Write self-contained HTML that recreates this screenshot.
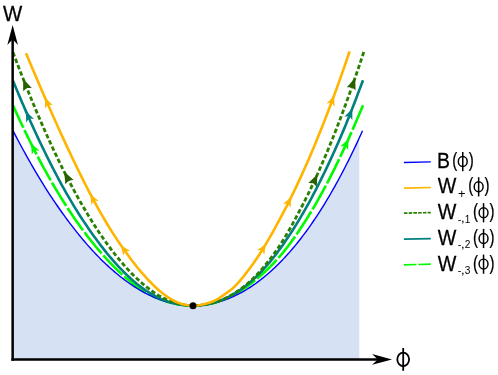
<!DOCTYPE html>
<html><head><meta charset="utf-8"><title>W vs phi</title>
<style>
html,body{margin:0;padding:0;background:#fff;}
body{width:498px;height:375px;overflow:hidden;font-family:"Liberation Sans",sans-serif;}
svg{display:block;will-change:transform;}
</style></head><body>
<svg width="498" height="375" viewBox="0 0 498 375">
<rect width="498" height="375" fill="#fff"/>
<path d="M13.00,130.69 L14.74,134.03 L16.48,137.35 L18.22,140.63 L19.96,143.88 L21.70,147.10 L23.44,150.29 L25.18,153.45 L26.92,156.57 L28.66,159.66 L30.40,162.72 L32.14,165.75 L33.88,168.75 L35.62,171.72 L37.36,174.67 L39.10,177.58 L40.84,180.46 L42.58,183.30 L44.32,186.10 L46.06,188.87 L47.80,191.59 L49.54,194.27 L51.28,196.91 L53.02,199.52 L54.76,202.10 L56.51,204.64 L58.25,207.16 L59.99,209.65 L61.73,212.11 L63.47,214.53 L65.21,216.93 L66.95,219.30 L68.69,221.64 L70.43,223.94 L72.17,226.22 L73.91,228.46 L75.65,230.68 L77.39,232.86 L79.13,235.01 L80.87,237.14 L82.61,239.23 L84.35,241.29 L86.09,243.31 L87.83,245.31 L89.57,247.27 L91.31,249.19 L93.05,251.09 L94.79,252.95 L96.53,254.78 L98.27,256.58 L100.01,258.34 L101.75,260.07 L103.49,261.77 L105.23,263.44 L106.97,265.08 L108.71,266.68 L110.45,268.26 L112.19,269.80 L113.93,271.31 L115.67,272.78 L117.41,274.23 L119.15,275.65 L120.89,277.03 L122.63,278.38 L124.37,279.71 L126.11,281.00 L127.85,282.26 L129.59,283.48 L131.33,284.68 L133.07,285.84 L134.81,286.96 L136.55,288.06 L138.29,289.12 L140.03,290.15 L141.77,291.15 L143.52,292.11 L145.26,293.04 L147.00,293.94 L148.74,294.81 L150.48,295.64 L152.22,296.44 L153.96,297.20 L155.70,297.94 L157.44,298.63 L159.18,299.30 L160.92,299.93 L162.66,300.53 L164.40,301.10 L166.14,301.63 L167.88,302.13 L169.62,302.60 L171.36,303.03 L173.10,303.43 L174.84,303.80 L176.58,304.13 L178.32,304.43 L180.06,304.69 L181.80,304.92 L183.54,305.12 L185.28,305.28 L187.02,305.41 L188.76,305.51 L190.50,305.57 L192.24,305.60 L193.98,305.59 L195.72,305.55 L197.46,305.48 L199.20,305.38 L200.94,305.24 L202.68,305.06 L204.42,304.86 L206.16,304.62 L207.90,304.35 L209.64,304.04 L211.38,303.70 L213.12,303.33 L214.86,302.92 L216.60,302.48 L218.34,302.00 L220.08,301.50 L221.82,300.95 L223.56,300.38 L225.30,299.77 L227.04,299.12 L228.78,298.44 L230.53,297.73 L232.27,296.98 L234.01,296.19 L235.75,295.38 L237.49,294.52 L239.23,293.64 L240.97,292.71 L242.71,291.75 L244.45,290.76 L246.19,289.73 L247.93,288.67 L249.67,287.57 L251.41,286.43 L253.15,285.26 L254.89,284.05 L256.63,282.80 L258.37,281.52 L260.11,280.20 L261.85,278.85 L263.59,277.46 L265.33,276.03 L267.07,274.56 L268.81,273.06 L270.55,271.52 L272.29,269.94 L274.03,268.32 L275.77,266.67 L277.51,264.98 L279.25,263.24 L280.99,261.47 L282.73,259.66 L284.47,257.82 L286.21,255.93 L287.95,254.00 L289.69,252.03 L291.43,250.03 L293.17,247.98 L294.91,245.89 L296.65,243.76 L298.39,241.59 L300.13,239.38 L301.87,237.13 L303.61,234.84 L305.35,232.50 L307.09,230.12 L308.83,227.70 L310.57,225.24 L312.31,222.74 L314.05,220.19 L315.79,217.60 L317.54,214.96 L319.28,212.28 L321.02,209.56 L322.76,206.79 L324.50,203.98 L326.24,201.12 L327.98,198.22 L329.72,195.27 L331.46,192.28 L333.20,189.24 L334.94,186.15 L336.68,183.01 L338.42,179.83 L340.16,176.60 L341.90,173.33 L343.64,170.00 L345.38,166.63 L347.12,163.21 L348.86,159.74 L350.60,156.22 L352.34,152.65 L354.08,149.03 L355.82,145.36 L357.56,141.64 L359.30,137.87 L359.3,359.4 L13,359.4 Z" fill="#d7e1f4"/>
<path d="M13.00,105.36 L14.21,108.04 L15.41,110.71 L16.62,113.35 L17.83,115.98 L19.03,118.59 L20.24,121.18 L21.45,123.75 L22.65,126.31 L23.86,128.84 L25.07,131.36 L26.27,133.85 L27.48,136.33 L28.69,138.79 L29.89,141.22 L31.10,143.64 L32.31,146.03 L33.51,148.41 L34.72,150.76 L35.93,153.10 L37.13,155.43 L38.34,157.73 L39.55,160.02 L40.75,162.29 L41.96,164.55 L43.17,166.78 L44.37,169.00 L45.58,171.20 L46.79,173.38 L47.99,175.54 L49.20,177.69 L50.41,179.81 L51.61,181.92 L52.82,184.01 L54.03,186.07 L55.23,188.12 L56.44,190.15 L57.65,192.16 L58.86,194.15 L60.06,196.11 L61.27,198.07 L62.48,200.00 L63.68,201.92 L64.89,203.82 L66.10,205.70 L67.30,207.57 L68.51,209.42 L69.72,211.25 L70.92,213.07 L72.13,214.87 L73.34,216.65 L74.54,218.41 L75.75,220.16 L76.96,221.89 L78.16,223.60 L79.37,225.30 L80.58,226.98 L81.78,228.64 L82.99,230.28 L84.20,231.91 L85.40,233.52 L86.61,235.11 L87.82,236.68 L89.02,238.24 L90.23,239.78 L91.44,241.30 L92.64,242.80 L93.85,244.29 L95.06,245.76 L96.26,247.21 L97.47,248.65 L98.68,250.07 L99.88,251.47 L101.09,252.85 L102.30,254.22 L103.50,255.58 L104.71,256.92 L105.92,258.25 L107.12,259.56 L108.33,260.85 L109.54,262.13 L110.74,263.40 L111.95,264.65 L113.16,265.88 L114.36,267.10 L115.57,268.30 L116.78,269.48 L117.98,270.64 L119.19,271.79 L120.40,272.92 L121.60,274.03 L122.81,275.12 L124.02,276.20 L125.22,277.25 L126.43,278.29 L127.64,279.30 L128.84,280.30 L130.05,281.28 L131.26,282.25 L132.46,283.20 L133.67,284.13 L134.88,285.04 L136.08,285.93 L137.29,286.80 L138.50,287.64 L139.70,288.47 L140.91,289.26 L142.12,290.04 L143.32,290.79 L144.53,291.52 L145.74,292.23 L146.94,292.92 L148.15,293.59 L149.36,294.24 L150.57,294.87 L151.77,295.48 L152.98,296.07 L154.19,296.64 L155.39,297.20 L156.60,297.73 L157.81,298.25 L159.01,298.75 L160.22,299.23 L161.43,299.70 L162.63,300.15 L163.84,300.58 L165.05,301.00 L166.25,301.40 L167.46,301.78 L168.67,302.14 L169.87,302.49 L171.08,302.82 L172.29,303.13 L173.49,303.42 L174.70,303.69 L175.91,303.95 L177.11,304.18 L178.32,304.40 L179.53,304.60 L180.73,304.78 L181.94,304.95 L183.15,305.09 L184.35,305.22 L185.56,305.33 L186.77,305.42 L187.97,305.49 L189.18,305.55 L190.39,305.58 L191.59,305.60 L192.80,305.60" fill="none" stroke="#00fa00" stroke-width="2.6" stroke-dasharray="27.2 2.5" stroke-dashoffset="2.5"/>
<path d="M363.00,105.26 L361.86,108.00 L360.72,110.73 L359.57,113.45 L358.43,116.15 L357.29,118.83 L356.15,121.49 L355.00,124.14 L353.86,126.77 L352.72,129.38 L351.58,131.98 L350.43,134.55 L349.29,137.11 L348.15,139.66 L347.01,142.18 L345.87,144.68 L344.72,147.17 L343.58,149.64 L342.44,152.10 L341.30,154.54 L340.15,156.96 L339.01,159.37 L337.87,161.75 L336.73,164.12 L335.59,166.47 L334.44,168.80 L333.30,171.11 L332.16,173.39 L331.02,175.65 L329.87,177.89 L328.73,180.11 L327.59,182.29 L326.45,184.46 L325.30,186.60 L324.16,188.73 L323.02,190.84 L321.88,192.93 L320.74,195.00 L319.59,197.05 L318.45,199.08 L317.31,201.10 L316.17,203.10 L315.02,205.07 L313.88,207.03 L312.74,208.97 L311.60,210.89 L310.46,212.79 L309.31,214.68 L308.17,216.54 L307.03,218.39 L305.89,220.21 L304.74,222.02 L303.60,223.80 L302.46,225.57 L301.32,227.32 L300.17,229.05 L299.03,230.76 L297.89,232.45 L296.75,234.12 L295.61,235.77 L294.46,237.40 L293.32,239.01 L292.18,240.60 L291.04,242.17 L289.89,243.72 L288.75,245.25 L287.61,246.75 L286.47,248.23 L285.32,249.68 L284.18,251.11 L283.04,252.51 L281.90,253.89 L280.76,255.25 L279.61,256.58 L278.47,257.89 L277.33,259.18 L276.19,260.45 L275.04,261.69 L273.90,262.91 L272.76,264.12 L271.62,265.30 L270.48,266.46 L269.33,267.60 L268.19,268.73 L267.05,269.83 L265.91,270.92 L264.76,271.98 L263.62,273.03 L262.48,274.07 L261.34,275.08 L260.19,276.08 L259.05,277.07 L257.91,278.04 L256.77,278.99 L255.63,279.93 L254.48,280.85 L253.34,281.76 L252.20,282.66 L251.06,283.55 L249.91,284.42 L248.77,285.28 L247.63,286.11 L246.49,286.94 L245.34,287.74 L244.20,288.53 L243.06,289.30 L241.92,290.05 L240.78,290.78 L239.63,291.50 L238.49,292.20 L237.35,292.88 L236.21,293.54 L235.06,294.18 L233.92,294.81 L232.78,295.41 L231.64,296.00 L230.50,296.57 L229.35,297.13 L228.21,297.66 L227.07,298.17 L225.93,298.67 L224.78,299.15 L223.64,299.60 L222.50,300.05 L221.36,300.47 L220.21,300.87 L219.07,301.26 L217.93,301.63 L216.79,301.99 L215.65,302.32 L214.50,302.64 L213.36,302.94 L212.22,303.23 L211.08,303.50 L209.93,303.75 L208.79,303.98 L207.65,304.20 L206.51,304.40 L205.37,304.59 L204.22,304.76 L203.08,304.91 L201.94,305.05 L200.80,305.17 L199.65,305.28 L198.51,305.37 L197.37,305.45 L196.23,305.51 L195.08,305.55 L193.94,305.58 L192.80,305.60" fill="none" stroke="#00fa00" stroke-width="2.6" stroke-dasharray="27.2 2.5" stroke-dashoffset="0.5"/>
<path d="M13.00,130.69 L14.76,134.06 L16.51,137.41 L18.27,140.72 L20.03,144.00 L21.78,147.25 L23.54,150.47 L25.29,153.65 L27.05,156.80 L28.81,159.92 L30.56,163.00 L32.32,166.05 L34.08,169.08 L35.83,172.08 L37.59,175.05 L39.34,177.98 L41.10,180.88 L42.86,183.74 L44.61,186.57 L46.37,189.35 L48.13,192.09 L49.88,194.79 L51.64,197.44 L53.39,200.07 L55.15,202.66 L56.91,205.23 L58.66,207.76 L60.42,210.27 L62.18,212.74 L63.93,215.18 L65.69,217.59 L67.44,219.97 L69.20,222.32 L70.96,224.64 L72.71,226.93 L74.47,229.18 L76.23,231.41 L77.98,233.60 L79.74,235.76 L81.49,237.89 L83.25,239.99 L85.01,242.06 L86.76,244.09 L88.52,246.09 L90.28,248.06 L92.03,249.99 L93.79,251.88 L95.55,253.75 L97.30,255.58 L99.06,257.38 L100.81,259.15 L102.57,260.88 L104.33,262.58 L106.08,264.25 L107.84,265.88 L109.60,267.49 L111.35,269.06 L113.11,270.59 L114.86,272.10 L116.62,273.58 L118.38,275.02 L120.13,276.43 L121.89,277.81 L123.65,279.16 L125.40,280.47 L127.16,281.76 L128.91,283.01 L130.67,284.23 L132.43,285.41 L134.18,286.56 L135.94,287.68 L137.70,288.76 L139.45,289.81 L141.21,290.83 L142.96,291.81 L144.72,292.76 L146.48,293.68 L148.23,294.56 L149.99,295.41 L151.75,296.22 L153.50,297.01 L155.26,297.75 L157.02,298.47 L158.77,299.15 L160.53,299.80 L162.28,300.41 L164.04,300.99 L165.80,301.53 L167.55,302.04 L169.31,302.52 L171.07,302.96 L172.82,303.37 L174.58,303.74 L176.33,304.08 L178.09,304.39 L179.85,304.66 L181.60,304.90 L183.36,305.10 L185.12,305.27 L186.87,305.40 L188.63,305.50 L190.38,305.57 L192.14,305.60 L193.90,305.59 L195.65,305.56 L197.41,305.48 L199.17,305.38 L200.92,305.24 L202.68,305.06 L204.43,304.86 L206.19,304.61 L207.95,304.34 L209.70,304.03 L211.46,303.68 L213.22,303.31 L214.97,302.89 L216.73,302.45 L218.48,301.96 L220.24,301.45 L222.00,300.90 L223.75,300.31 L225.51,299.69 L227.27,299.04 L229.02,298.34 L230.78,297.62 L232.54,296.86 L234.29,296.06 L236.05,295.23 L237.80,294.36 L239.56,293.46 L241.32,292.52 L243.07,291.55 L244.83,290.54 L246.59,289.49 L248.34,288.41 L250.10,287.29 L251.85,286.13 L253.61,284.94 L255.37,283.71 L257.12,282.44 L258.88,281.14 L260.64,279.80 L262.39,278.42 L264.15,277.00 L265.90,275.55 L267.66,274.06 L269.42,272.53 L271.17,270.96 L272.93,269.35 L274.69,267.70 L276.44,266.02 L278.20,264.30 L279.95,262.53 L281.71,260.73 L283.47,258.89 L285.22,257.00 L286.98,255.08 L288.74,253.12 L290.49,251.11 L292.25,249.07 L294.01,246.98 L295.76,244.86 L297.52,242.69 L299.27,240.48 L301.03,238.23 L302.79,235.93 L304.54,233.60 L306.30,231.22 L308.06,228.79 L309.81,226.33 L311.57,223.82 L313.32,221.26 L315.08,218.67 L316.84,216.03 L318.59,213.34 L320.35,210.61 L322.11,207.83 L323.86,205.01 L325.62,202.14 L327.37,199.23 L329.13,196.27 L330.89,193.26 L332.64,190.21 L334.40,187.11 L336.16,183.96 L337.91,180.76 L339.67,177.52 L341.42,174.22 L343.18,170.88 L344.94,167.49 L346.69,164.05 L348.45,160.56 L350.21,157.02 L351.96,153.43 L353.72,149.78 L355.47,146.09 L357.23,142.34 L358.99,138.55 L360.74,134.70 L362.50,130.79" fill="none" stroke="#0000ff" stroke-width="1.4"/>
<path d="M13.00,80.76 L14.76,85.03 L16.52,89.27 L18.28,93.46 L20.04,97.62 L21.79,101.74 L23.55,105.82 L25.31,109.87 L27.07,113.87 L28.83,117.84 L30.59,121.77 L32.35,125.66 L34.11,129.51 L35.86,133.32 L37.62,137.10 L39.38,140.83 L41.14,144.52 L42.90,148.18 L44.66,151.80 L46.42,155.37 L48.18,158.91 L49.93,162.40 L51.69,165.86 L53.45,169.28 L55.21,172.65 L56.97,175.99 L58.73,179.28 L60.49,182.54 L62.25,185.75 L64.01,188.92 L65.76,192.06 L67.52,195.15 L69.28,198.20 L71.04,201.20 L72.80,204.16 L74.56,207.06 L76.32,209.91 L78.08,212.71 L79.83,215.47 L81.59,218.18 L83.35,220.86 L85.11,223.49 L86.87,226.08 L88.63,228.64 L90.39,231.17 L92.15,233.66 L93.90,236.13 L95.66,238.56 L97.42,240.95 L99.18,243.30 L100.94,245.62 L102.70,247.89 L104.46,250.13 L106.22,252.33 L107.97,254.48 L109.73,256.60 L111.49,258.67 L113.25,260.70 L115.01,262.69 L116.77,264.64 L118.53,266.54 L120.29,268.39 L122.05,270.21 L123.80,271.98 L125.56,273.72 L127.32,275.41 L129.08,277.06 L130.84,278.67 L132.60,280.23 L134.36,281.76 L136.12,283.26 L137.87,284.71 L139.63,286.08 L141.39,287.39 L143.15,288.64 L144.91,289.85 L146.67,291.01 L148.43,292.12 L150.19,293.19 L151.94,294.22 L153.70,295.19 L155.46,296.13 L157.22,297.02 L158.98,297.86 L160.74,298.67 L162.50,299.42 L164.26,300.14 L166.02,300.81 L167.77,301.44 L169.53,302.02 L171.29,302.55 L173.05,303.04 L174.81,303.49 L176.57,303.89 L178.33,304.24 L180.09,304.56 L181.84,304.83 L183.60,305.06 L185.36,305.25 L187.12,305.40 L188.88,305.50 L190.64,305.57 L192.40,305.60 L194.16,305.59 L195.91,305.54 L197.67,305.45 L199.43,305.32 L201.19,305.15 L202.95,304.94 L204.71,304.68 L206.47,304.39 L208.23,304.05 L209.98,303.67 L211.74,303.24 L213.50,302.77 L215.26,302.25 L217.02,301.69 L218.78,301.08 L220.54,300.43 L222.30,299.73 L224.06,298.98 L225.81,298.18 L227.57,297.34 L229.33,296.45 L231.09,295.51 L232.85,294.52 L234.61,293.48 L236.37,292.40 L238.13,291.27 L239.88,290.09 L241.64,288.87 L243.40,287.59 L245.16,286.26 L246.92,284.89 L248.68,283.46 L250.44,281.98 L252.20,280.45 L253.95,278.86 L255.71,277.23 L257.47,275.54 L259.23,273.79 L260.99,271.99 L262.75,270.13 L264.51,268.21 L266.27,266.23 L268.03,264.19 L269.78,262.09 L271.54,259.94 L273.30,257.73 L275.06,255.47 L276.82,253.15 L278.58,250.79 L280.34,248.37 L282.10,245.92 L283.85,243.41 L285.61,240.86 L287.37,238.27 L289.13,235.64 L290.89,232.97 L292.65,230.26 L294.41,227.49 L296.17,224.67 L297.92,221.79 L299.68,218.87 L301.44,215.90 L303.20,212.88 L304.96,209.81 L306.72,206.69 L308.48,203.51 L310.24,200.29 L311.99,197.02 L313.75,193.70 L315.51,190.33 L317.27,186.91 L319.03,183.45 L320.79,179.93 L322.55,176.37 L324.31,172.76 L326.07,169.10 L327.82,165.39 L329.58,161.63 L331.34,157.83 L333.10,153.98 L334.86,150.09 L336.62,146.15 L338.38,142.16 L340.14,138.13 L341.89,134.03 L343.65,129.87 L345.41,125.63 L347.17,121.33 L348.93,116.97 L350.69,112.55 L352.45,108.07 L354.21,103.54 L355.96,98.96 L357.72,94.33 L359.48,89.66 L361.24,84.95 L363.00,80.20" fill="none" stroke="#008080" stroke-width="2.6"/>
<path d="M13.00,52.41 L14.21,55.61 L15.41,58.79 L16.62,61.96 L17.83,65.11 L19.03,68.23 L20.24,71.35 L21.45,74.44 L22.65,77.51 L23.86,80.57 L25.07,83.60 L26.27,86.62 L27.48,89.62 L28.69,92.60 L29.89,95.56 L31.10,98.51 L32.31,101.43 L33.51,104.34 L34.72,107.23 L35.93,110.10 L37.13,112.95 L38.34,115.78 L39.55,118.59 L40.75,121.38 L41.96,124.16 L43.17,126.91 L44.37,129.65 L45.58,132.37 L46.79,135.07 L47.99,137.74 L49.20,140.40 L50.41,143.04 L51.61,145.66 L52.82,148.26 L54.03,150.83 L55.23,153.39 L56.44,155.92 L57.65,158.43 L58.86,160.92 L60.06,163.39 L61.27,165.84 L62.48,168.26 L63.68,170.67 L64.89,173.05 L66.10,175.42 L67.30,177.77 L68.51,180.09 L69.72,182.40 L70.92,184.69 L72.13,186.96 L73.34,189.20 L74.54,191.43 L75.75,193.64 L76.96,195.83 L78.16,198.00 L79.37,200.15 L80.58,202.28 L81.78,204.39 L82.99,206.47 L84.20,208.54 L85.40,210.58 L86.61,212.61 L87.82,214.61 L89.02,216.60 L90.23,218.56 L91.44,220.51 L92.64,222.43 L93.85,224.33 L95.06,226.21 L96.26,228.07 L97.47,229.91 L98.68,231.73 L99.88,233.54 L101.09,235.32 L102.30,237.07 L103.50,238.81 L104.71,240.53 L105.92,242.22 L107.12,243.90 L108.33,245.55 L109.54,247.18 L110.74,248.79 L111.95,250.38 L113.16,251.94 L114.36,253.49 L115.57,255.01 L116.78,256.52 L117.98,258.00 L119.19,259.47 L120.40,260.91 L121.60,262.33 L122.81,263.73 L124.02,265.12 L125.22,266.48 L126.43,267.82 L127.64,269.15 L128.84,270.45 L130.05,271.73 L131.26,272.99 L132.46,274.22 L133.67,275.44 L134.88,276.63 L136.08,277.79 L137.29,278.94 L138.50,280.06 L139.70,281.15 L140.91,282.23 L142.12,283.28 L143.32,284.32 L144.53,285.33 L145.74,286.31 L146.94,287.28 L148.15,288.22 L149.36,289.13 L150.57,290.03 L151.77,290.90 L152.98,291.74 L154.19,292.57 L155.39,293.36 L156.60,294.14 L157.81,294.88 L159.01,295.61 L160.22,296.30 L161.43,296.98 L162.63,297.62 L163.84,298.24 L165.05,298.84 L166.25,299.41 L167.46,299.95 L168.67,300.47 L169.87,300.96 L171.08,301.43 L172.29,301.87 L173.49,302.29 L174.70,302.69 L175.91,303.06 L177.11,303.40 L178.32,303.72 L179.53,304.01 L180.73,304.28 L181.94,304.53 L183.15,304.74 L184.35,304.94 L185.56,305.11 L186.77,305.25 L187.97,305.37 L189.18,305.47 L190.39,305.54 L191.59,305.58 L192.80,305.60" fill="none" stroke="#2a8000" stroke-width="2.8" stroke-dasharray="4.4 2.4" stroke-dashoffset="0"/>
<path d="M363.80,51.99 L362.65,55.47 L361.50,58.92 L360.36,62.34 L359.21,65.75 L358.06,69.14 L356.91,72.50 L355.77,75.84 L354.62,79.16 L353.47,82.46 L352.32,85.74 L351.18,88.99 L350.03,92.22 L348.88,95.43 L347.73,98.62 L346.59,101.78 L345.44,104.92 L344.29,108.04 L343.14,111.13 L341.99,114.20 L340.85,117.25 L339.70,120.27 L338.55,123.28 L337.40,126.25 L336.26,129.21 L335.11,132.14 L333.96,135.04 L332.81,137.93 L331.67,140.79 L330.52,143.62 L329.37,146.43 L328.22,149.22 L327.08,151.98 L325.93,154.72 L324.78,157.43 L323.63,160.12 L322.48,162.78 L321.34,165.42 L320.19,168.04 L319.04,170.63 L317.89,173.20 L316.75,175.74 L315.60,178.25 L314.45,180.75 L313.30,183.21 L312.16,185.65 L311.01,188.07 L309.86,190.46 L308.71,192.83 L307.57,195.17 L306.42,197.49 L305.27,199.78 L304.12,202.04 L302.97,204.28 L301.83,206.50 L300.68,208.69 L299.53,210.86 L298.38,213.03 L297.24,215.21 L296.09,217.38 L294.94,219.55 L293.79,221.71 L292.65,223.84 L291.50,225.95 L290.35,228.02 L289.20,230.06 L288.06,232.05 L286.91,234.00 L285.76,235.90 L284.61,237.77 L283.46,239.62 L282.32,241.45 L281.17,243.24 L280.02,245.00 L278.87,246.74 L277.73,248.44 L276.58,250.11 L275.43,251.75 L274.28,253.36 L273.14,254.94 L271.99,256.50 L270.84,258.03 L269.69,259.53 L268.54,261.02 L267.40,262.47 L266.25,263.90 L265.10,265.31 L263.95,266.69 L262.81,268.05 L261.66,269.38 L260.51,270.68 L259.36,271.97 L258.22,273.22 L257.07,274.45 L255.92,275.65 L254.77,276.82 L253.63,277.97 L252.48,279.08 L251.33,280.17 L250.18,281.24 L249.03,282.27 L247.89,283.28 L246.74,284.27 L245.59,285.23 L244.44,286.16 L243.30,287.07 L242.15,287.95 L241.00,288.81 L239.85,289.65 L238.71,290.46 L237.56,291.25 L236.41,292.02 L235.26,292.76 L234.12,293.48 L232.97,294.18 L231.82,294.85 L230.67,295.51 L229.52,296.14 L228.38,296.76 L227.23,297.35 L226.08,297.92 L224.93,298.47 L223.79,299.00 L222.64,299.51 L221.49,300.00 L220.34,300.47 L219.20,300.91 L218.05,301.33 L216.90,301.73 L215.75,302.11 L214.61,302.47 L213.46,302.81 L212.31,303.13 L211.16,303.43 L210.01,303.70 L208.87,303.96 L207.72,304.20 L206.57,304.42 L205.42,304.62 L204.28,304.80 L203.13,304.96 L201.98,305.10 L200.83,305.23 L199.69,305.33 L198.54,305.42 L197.39,305.49 L196.24,305.54 L195.10,305.58 L193.95,305.60 L192.80,305.60" fill="none" stroke="#2a8000" stroke-width="2.8" stroke-dasharray="4.4 2.4" stroke-dashoffset="0"/>
<path d="M26.00,53.23 L27.63,57.10 L29.25,60.96 L30.88,64.80 L32.50,68.64 L34.13,72.47 L35.76,76.28 L37.38,80.08 L39.01,83.87 L40.64,87.65 L42.26,91.41 L43.89,95.16 L45.51,98.89 L47.14,102.61 L48.77,106.32 L50.39,110.00 L52.02,113.67 L53.64,117.33 L55.27,120.96 L56.90,124.58 L58.52,128.18 L60.15,131.76 L61.77,135.32 L63.40,138.86 L65.03,142.38 L66.65,145.88 L68.28,149.36 L69.91,152.81 L71.53,156.24 L73.16,159.65 L74.78,163.04 L76.41,166.39 L78.04,169.73 L79.66,173.04 L81.29,176.32 L82.91,179.58 L84.54,182.81 L86.17,186.01 L87.79,189.18 L89.42,192.32 L91.05,195.43 L92.67,198.50 L94.30,201.51 L95.92,204.48 L97.55,207.41 L99.18,210.30 L100.80,213.16 L102.43,215.97 L104.05,218.76 L105.68,221.51 L107.31,224.21 L108.93,226.87 L110.56,229.49 L112.18,232.07 L113.81,234.62 L115.44,237.13 L117.06,239.59 L118.69,242.01 L120.32,244.38 L121.94,246.72 L123.57,249.03 L125.19,251.30 L126.82,253.55 L128.45,255.79 L130.07,258.00 L131.70,260.19 L133.32,262.33 L134.95,264.42 L136.58,266.47 L138.20,268.47 L139.83,270.42 L141.46,272.32 L143.08,274.18 L144.71,275.99 L146.33,277.77 L147.96,279.53 L149.59,281.26 L151.21,282.96 L152.84,284.61 L154.46,286.21 L156.09,287.76 L157.72,289.25 L159.34,290.67 L160.97,292.02 L162.59,293.32 L164.22,294.56 L165.85,295.75 L167.47,296.88 L169.10,297.94 L170.73,298.94 L172.35,299.88 L173.98,300.74 L175.60,301.53 L177.23,302.25 L178.86,302.90 L180.48,303.47 L182.11,303.98 L183.73,304.41 L185.36,304.78 L186.99,305.08 L188.61,305.31 L190.24,305.48 L191.87,305.57 L193.49,305.60 L195.12,305.56 L196.74,305.45 L198.37,305.27 L200.00,305.02 L201.62,304.71 L203.25,304.35 L204.87,303.95 L206.50,303.52 L208.13,303.06 L209.75,302.54 L211.38,301.96 L213.01,301.30 L214.63,300.56 L216.26,299.72 L217.88,298.80 L219.51,297.81 L221.14,296.77 L222.76,295.67 L224.39,294.52 L226.01,293.34 L227.64,292.17 L229.27,290.97 L230.89,289.72 L232.52,288.39 L234.14,286.96 L235.77,285.39 L237.40,283.68 L239.02,281.86 L240.65,279.96 L242.28,277.98 L243.90,275.95 L245.53,273.88 L247.15,271.78 L248.78,269.64 L250.41,267.45 L252.03,265.21 L253.66,262.92 L255.28,260.57 L256.91,258.18 L258.54,255.73 L260.16,253.22 L261.79,250.65 L263.42,248.02 L265.04,245.35 L266.67,242.63 L268.29,239.87 L269.92,237.08 L271.55,234.26 L273.17,231.38 L274.80,228.45 L276.42,225.48 L278.05,222.48 L279.68,219.44 L281.30,216.38 L282.93,213.28 L284.55,210.17 L286.18,207.04 L287.81,203.86 L289.43,200.64 L291.06,197.38 L292.69,194.07 L294.31,190.72 L295.94,187.32 L297.56,183.89 L299.19,180.41 L300.82,176.89 L302.44,173.32 L304.07,169.72 L305.69,166.07 L307.32,162.38 L308.95,158.65 L310.57,154.87 L312.20,151.05 L313.83,147.19 L315.45,143.29 L317.08,139.34 L318.70,135.36 L320.33,131.33 L321.96,127.26 L323.58,123.14 L325.21,118.98 L326.83,114.78 L328.46,110.54 L330.09,106.26 L331.71,101.93 L333.34,97.56 L334.96,93.14 L336.59,88.68 L338.22,84.18 L339.84,79.63 L341.47,75.04 L343.10,70.41 L344.72,65.73 L346.35,61.01 L347.97,56.24 L349.60,51.42" fill="none" stroke="#ffb400" stroke-width="2.6"/>
<path d="M23.11,78.71 L31.76,87.96 L26.86,88.09 L23.21,91.37 Z" fill="#266000"/>
<path d="M64.10,171.55 L73.59,179.93 L68.72,180.53 L65.41,184.14 Z" fill="#266000"/>
<path d="M317.47,174.20 L316.71,186.84 L313.24,183.37 L308.35,182.99 Z" fill="#266000"/>
<path d="M355.15,77.67 L355.59,90.32 L351.81,87.20 L346.91,87.29 Z" fill="#266000"/>
<path d="M44.99,97.71 L52.85,105.19 L47.92,104.40 L45.16,108.56 Z" fill="#ffb400"/>
<path d="M90.34,194.14 L98.76,200.98 L93.79,200.58 L91.36,204.94 Z" fill="#ffb400"/>
<path d="M120.90,245.28 L130.12,250.99 L125.13,251.23 L123.28,255.86 Z" fill="#ffb400"/>
<path d="M265.92,243.95 L264.26,254.67 L262.10,250.17 L257.10,250.27 Z" fill="#ffb400"/>
<path d="M291.25,197.04 L290.50,207.86 L287.97,203.56 L283.00,204.08 Z" fill="#ffb400"/>
<path d="M334.05,95.67 L334.49,106.50 L331.50,102.51 L326.62,103.57 Z" fill="#ffb400"/>
<path d="M25.87,111.17 L34.06,119.03 L29.03,118.31 L26.20,122.52 Z" fill="#008080"/>
<path d="M352.23,108.65 L352.36,119.99 L349.36,115.90 L344.37,116.82 Z" fill="#008080"/>
<path d="M30.92,143.31 L39.51,150.71 L34.46,150.26 L31.85,154.62 Z" fill="#00fa00"/>
<path d="M348.58,138.74 L348.13,150.08 L345.34,145.83 L340.31,146.51 Z" fill="#00fa00"/>
<circle cx="193.0" cy="305.8" r="3.5" fill="#000"/>
<path d="M12.65,360.65 L12.65,33.1" stroke="#000" stroke-width="2.5" fill="none"/>
<path d="M11.4,359.4 L384.0,359.4" stroke="#000" stroke-width="2.5" fill="none"/>
<path d="M12.65,25.1 L17.95,45.0 L12.65,39.3 L7.3500000000000005,45.0 Z" fill="#000"/>
<path d="M392.0,359.4 L372.1,354.09999999999997 L377.8,359.4 L372.1,364.7 Z" fill="#000"/>
<path d="M403.9,162.50 L430.8,161.90" stroke="#0000ff" stroke-width="1.3"/>
<path d="M403.9,188.10 L430.8,187.50" stroke="#ffb400" stroke-width="1.7"/>
<path d="M403.9,213.15 L430.8,212.55" stroke="#2a8000" stroke-width="1.7" stroke-dasharray="3.6 1.14"/>
<path d="M403.9,239.20 L430.8,238.60" stroke="#008080" stroke-width="1.7"/>
<path d="M403.9,264.80 L430.8,264.20" stroke="#00fa00" stroke-width="1.7" stroke-dasharray="12.5 2"/>
<text transform="matrix(0.9716 0 0 1.0596 436.919 167.950)" font-size="20" font-family="Liberation Sans, sans-serif" fill="#000" stroke="#000" stroke-width="0.25">B</text>
<text transform="matrix(0.7543 0 0 0.9875 452.264 166.961)" font-size="20" font-family="Liberation Sans, sans-serif" fill="#000" stroke="#000" stroke-width="0.25">(</text>
<ellipse cx="462.75" cy="161.5" rx="4.45" ry="5.0" fill="none" stroke="#000" stroke-width="1.45"/><path d="M462.75,151.95 L462.75,171.14999999999998" stroke="#000" stroke-width="1.5"/>
<text transform="matrix(0.7543 0 0 0.9875 468.712 166.961)" font-size="20" font-family="Liberation Sans, sans-serif" fill="#000" stroke="#000" stroke-width="0.25">)</text>
<text transform="matrix(0.9859 0 0 1.0596 437.727 193.250)" font-size="20" font-family="Liberation Sans, sans-serif" fill="#000" stroke="#000" stroke-width="0.25">W</text>
<text transform="matrix(1.2884 0 0 1.2814 458.030 197.776)" font-size="10" font-family="Liberation Sans, sans-serif" fill="#000">+</text>
<text transform="matrix(0.7543 0 0 0.9875 468.164 192.261)" font-size="20" font-family="Liberation Sans, sans-serif" fill="#000" stroke="#000" stroke-width="0.25">(</text>
<ellipse cx="478.65000000000003" cy="186.8" rx="4.45" ry="5.0" fill="none" stroke="#000" stroke-width="1.45"/><path d="M478.65000000000003,177.25 L478.65000000000003,196.45" stroke="#000" stroke-width="1.5"/>
<text transform="matrix(0.7543 0 0 0.9875 484.612 192.261)" font-size="20" font-family="Liberation Sans, sans-serif" fill="#000" stroke="#000" stroke-width="0.25">)</text>
<text transform="matrix(0.9859 0 0 1.0596 437.727 219.150)" font-size="20" font-family="Liberation Sans, sans-serif" fill="#000" stroke="#000" stroke-width="0.25">W</text>
<text transform="matrix(1.0780 0 0 1.0250 457.709 222.533)" font-size="10" font-family="Liberation Sans, sans-serif" fill="#000">-</text>
<text transform="matrix(1.4577 0 0 1.0229 460.770 222.404)" font-size="10" font-family="Liberation Sans, sans-serif" fill="#000">,</text>
<text transform="matrix(1.0068 0 0 1.0596 464.819 222.550)" font-size="10" font-family="Liberation Sans, sans-serif" fill="#000">1</text>
<text transform="matrix(0.7543 0 0 0.9875 473.064 218.161)" font-size="20" font-family="Liberation Sans, sans-serif" fill="#000" stroke="#000" stroke-width="0.25">(</text>
<ellipse cx="483.55" cy="212.70000000000002" rx="4.45" ry="5.0" fill="none" stroke="#000" stroke-width="1.45"/><path d="M483.55,203.15 L483.55,222.35" stroke="#000" stroke-width="1.5"/>
<text transform="matrix(0.7543 0 0 0.9875 489.512 218.161)" font-size="20" font-family="Liberation Sans, sans-serif" fill="#000" stroke="#000" stroke-width="0.25">)</text>
<text transform="matrix(0.9859 0 0 1.0596 437.727 244.850)" font-size="20" font-family="Liberation Sans, sans-serif" fill="#000" stroke="#000" stroke-width="0.25">W</text>
<text transform="matrix(1.0780 0 0 1.0250 457.709 248.233)" font-size="10" font-family="Liberation Sans, sans-serif" fill="#000">-</text>
<text transform="matrix(1.4577 0 0 1.0229 460.770 248.104)" font-size="10" font-family="Liberation Sans, sans-serif" fill="#000">,</text>
<text transform="matrix(1.0161 0 0 1.0629 464.709 248.250)" font-size="10" font-family="Liberation Sans, sans-serif" fill="#000">2</text>
<text transform="matrix(0.7543 0 0 0.9875 473.064 243.861)" font-size="20" font-family="Liberation Sans, sans-serif" fill="#000" stroke="#000" stroke-width="0.25">(</text>
<ellipse cx="483.55" cy="238.4" rx="4.45" ry="5.0" fill="none" stroke="#000" stroke-width="1.45"/><path d="M483.55,228.85 L483.55,248.04999999999998" stroke="#000" stroke-width="1.5"/>
<text transform="matrix(0.7543 0 0 0.9875 489.512 243.861)" font-size="20" font-family="Liberation Sans, sans-serif" fill="#000" stroke="#000" stroke-width="0.25">)</text>
<text transform="matrix(0.9859 0 0 1.0596 437.727 270.550)" font-size="20" font-family="Liberation Sans, sans-serif" fill="#000" stroke="#000" stroke-width="0.25">W</text>
<text transform="matrix(1.0780 0 0 1.0250 457.709 273.933)" font-size="10" font-family="Liberation Sans, sans-serif" fill="#000">-</text>
<text transform="matrix(1.4577 0 0 1.0229 460.770 273.804)" font-size="10" font-family="Liberation Sans, sans-serif" fill="#000">,</text>
<text transform="matrix(1.0124 0 0 1.0683 464.863 273.987)" font-size="10" font-family="Liberation Sans, sans-serif" fill="#000">3</text>
<text transform="matrix(0.7543 0 0 0.9875 473.064 269.561)" font-size="20" font-family="Liberation Sans, sans-serif" fill="#000" stroke="#000" stroke-width="0.25">(</text>
<ellipse cx="483.55" cy="264.1" rx="4.45" ry="5.0" fill="none" stroke="#000" stroke-width="1.45"/><path d="M483.55,254.55 L483.55,273.75" stroke="#000" stroke-width="1.5"/>
<text transform="matrix(0.7543 0 0 0.9875 489.512 269.561)" font-size="20" font-family="Liberation Sans, sans-serif" fill="#000" stroke="#000" stroke-width="0.25">)</text>
<text transform="matrix(1.0203 0 0 1.0683 3.010 21.100)" font-size="20" font-family="Liberation Sans, sans-serif" fill="#000" stroke="#000" stroke-width="0.25">W</text>
<ellipse cx="403.2" cy="359.3" rx="5.9" ry="6.7" fill="none" stroke="#000" stroke-width="1.8"/><path d="M403.2,348 L403.2,370.8" stroke="#000" stroke-width="1.8"/>
</svg>
</body></html>
